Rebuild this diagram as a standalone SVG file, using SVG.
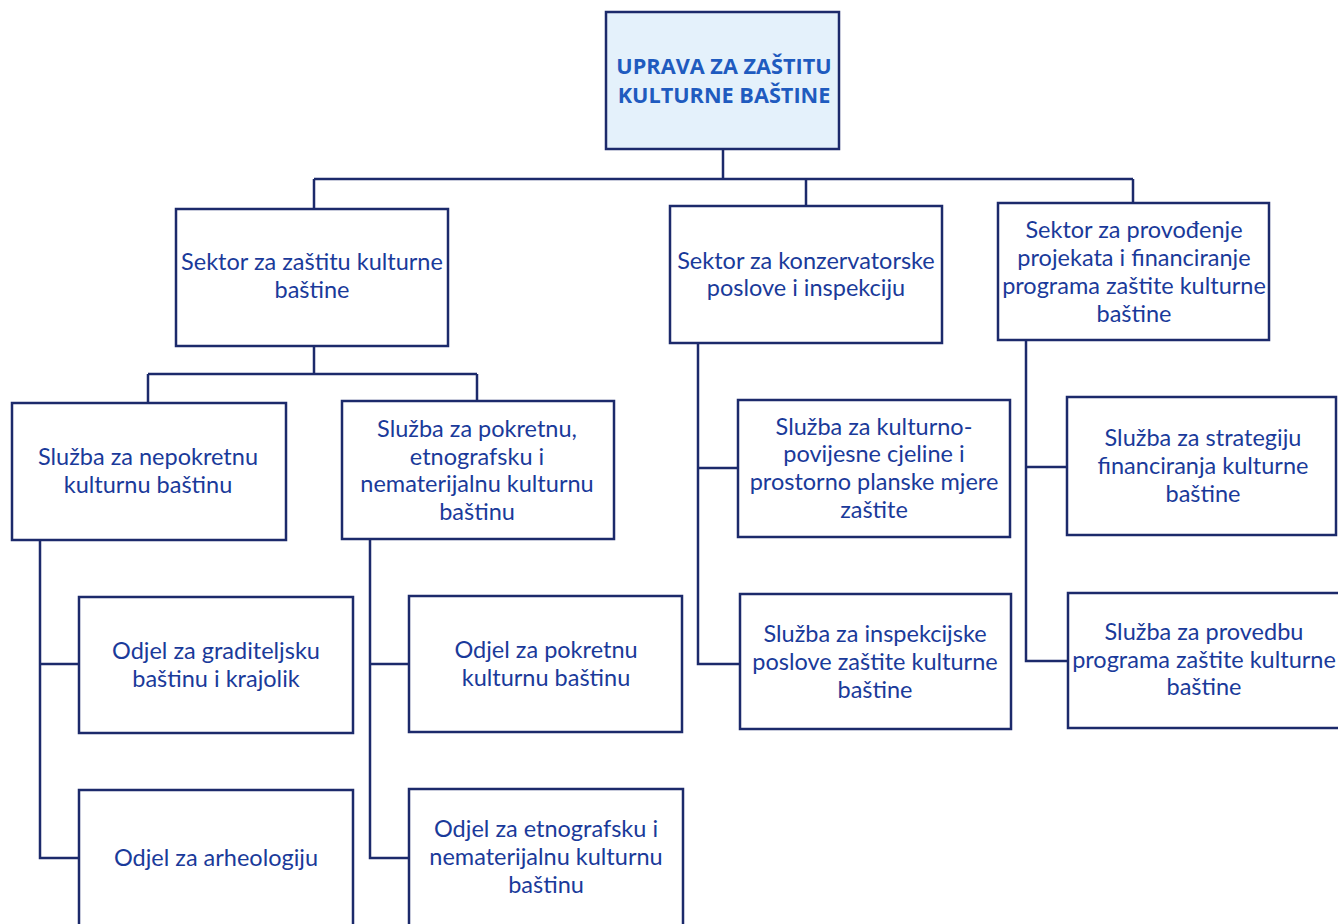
<svg xmlns="http://www.w3.org/2000/svg" width="1338" height="924" viewBox="0 0 1338 924">
<style>
.box{fill:#ffffff;stroke:#1c2a6b;stroke-width:2.5}
.top{fill:#e4f1fb;stroke:#1c2a6b;stroke-width:2.5}
.t{font-family:Lato,"Open Sans",sans-serif;font-size:23.5px;fill:#1a3a9a;text-anchor:middle}
.tb{font-family:"Open Sans",Lato,sans-serif;font-size:21.7px;font-weight:bold;fill:#1f5bbf;text-anchor:middle}
.c{fill:none;stroke:#1c2a6b;stroke-width:2.5}
</style>
<rect width="1338" height="924" fill="#ffffff"/>
<g id="connectors">
<path class="c" d="M723 149V179M314 179H1133M314 179V209M806 179V206M1133 179V203"/>
<path class="c" d="M314 346V374M148 374H477M148 374V403M477 374V401"/>
<path class="c" d="M40 540V858H79M40 664H79"/>
<path class="c" d="M370 539V858H409M370 664H409"/>
<path class="c" d="M698 343V664H740M698 468H738"/>
<path class="c" d="M1026 340V661H1068M1026 467H1067"/>
</g>
<g id="uprava">
<rect class="top" x="606" y="12" width="233" height="137"/>
<text class="tb" x="724" y="74">UPRAVA ZA ZAŠTITU</text>
<text class="tb" x="724" y="103">KULTURNE BAŠTINE</text>
</g>
<g id="sektor1">
<rect class="box" x="176" y="209" width="272" height="137"/>
<text class="t" x="312" y="270">Sektor za zaštitu kulturne</text>
<text class="t" x="312" y="298">baštine</text>
</g>
<g id="sektor2">
<rect class="box" x="670" y="206" width="272" height="137"/>
<text class="t" x="806" y="269">Sektor za konzervatorske</text>
<text class="t" x="806" y="296">poslove i inspekciju</text>
</g>
<g id="sektor3">
<rect class="box" x="998" y="203" width="271" height="137"/>
<text class="t" x="1134" y="238">Sektor za provođenje</text>
<text class="t" x="1134" y="266">projekata i financiranje</text>
<text class="t" x="1134" y="294">programa zaštite kulturne</text>
<text class="t" x="1134" y="322">baštine</text>
</g>
<g id="sluzba-nepokretnu">
<rect class="box" x="12" y="403" width="274" height="137"/>
<text class="t" x="148" y="465">Služba za nepokretnu</text>
<text class="t" x="148" y="493">kulturnu baštinu</text>
</g>
<g id="sluzba-pokretnu">
<rect class="box" x="342" y="401" width="272" height="138"/>
<text class="t" x="477" y="437">Služba za pokretnu,</text>
<text class="t" x="477" y="465">etnografsku i</text>
<text class="t" x="477" y="492">nematerijalnu kulturnu</text>
<text class="t" x="477" y="520">baštinu</text>
</g>
<g id="odjel-graditeljsku">
<rect class="box" x="79" y="597" width="274" height="136"/>
<text class="t" x="216" y="659">Odjel za graditeljsku</text>
<text class="t" x="216" y="687">baštinu i krajolik</text>
</g>
<g id="odjel-arheologiju">
<rect class="box" x="79" y="790" width="274" height="145"/>
<text class="t" x="216" y="866">Odjel za arheologiju</text>
</g>
<g id="odjel-pokretnu">
<rect class="box" x="409" y="596" width="273" height="136"/>
<text class="t" x="546" y="658">Odjel za pokretnu</text>
<text class="t" x="546" y="686">kulturnu baštinu</text>
</g>
<g id="odjel-etnografsku">
<rect class="box" x="409" y="789" width="274" height="145"/>
<text class="t" x="546" y="837">Odjel za etnografsku i</text>
<text class="t" x="546" y="865">nematerijalnu kulturnu</text>
<text class="t" x="546" y="893">baštinu</text>
</g>
<g id="sluzba-kulturno">
<rect class="box" x="738" y="400" width="272" height="137"/>
<text class="t" x="874" y="435">Služba za kulturno-</text>
<text class="t" x="874" y="462">povijesne cjeline i</text>
<text class="t" x="874" y="490">prostorno planske mjere</text>
<text class="t" x="874" y="518">zaštite</text>
</g>
<g id="sluzba-inspekcijske">
<rect class="box" x="740" y="594" width="271" height="135"/>
<text class="t" x="875" y="642">Služba za inspekcijske</text>
<text class="t" x="875" y="670">poslove zaštite kulturne</text>
<text class="t" x="875" y="698">baštine</text>
</g>
<g id="sluzba-strategiju">
<rect class="box" x="1067" y="397" width="269" height="138"/>
<text class="t" x="1203" y="446">Služba za strategiju</text>
<text class="t" x="1203" y="474">financiranja kulturne</text>
<text class="t" x="1203" y="502">baštine</text>
</g>
<g id="sluzba-provedbu">
<rect class="box" x="1068" y="593" width="272" height="135"/>
<text class="t" x="1204" y="640">Služba za provedbu</text>
<text class="t" x="1204" y="668">programa zaštite kulturne</text>
<text class="t" x="1204" y="695">baštine</text>
</g>
</svg>
